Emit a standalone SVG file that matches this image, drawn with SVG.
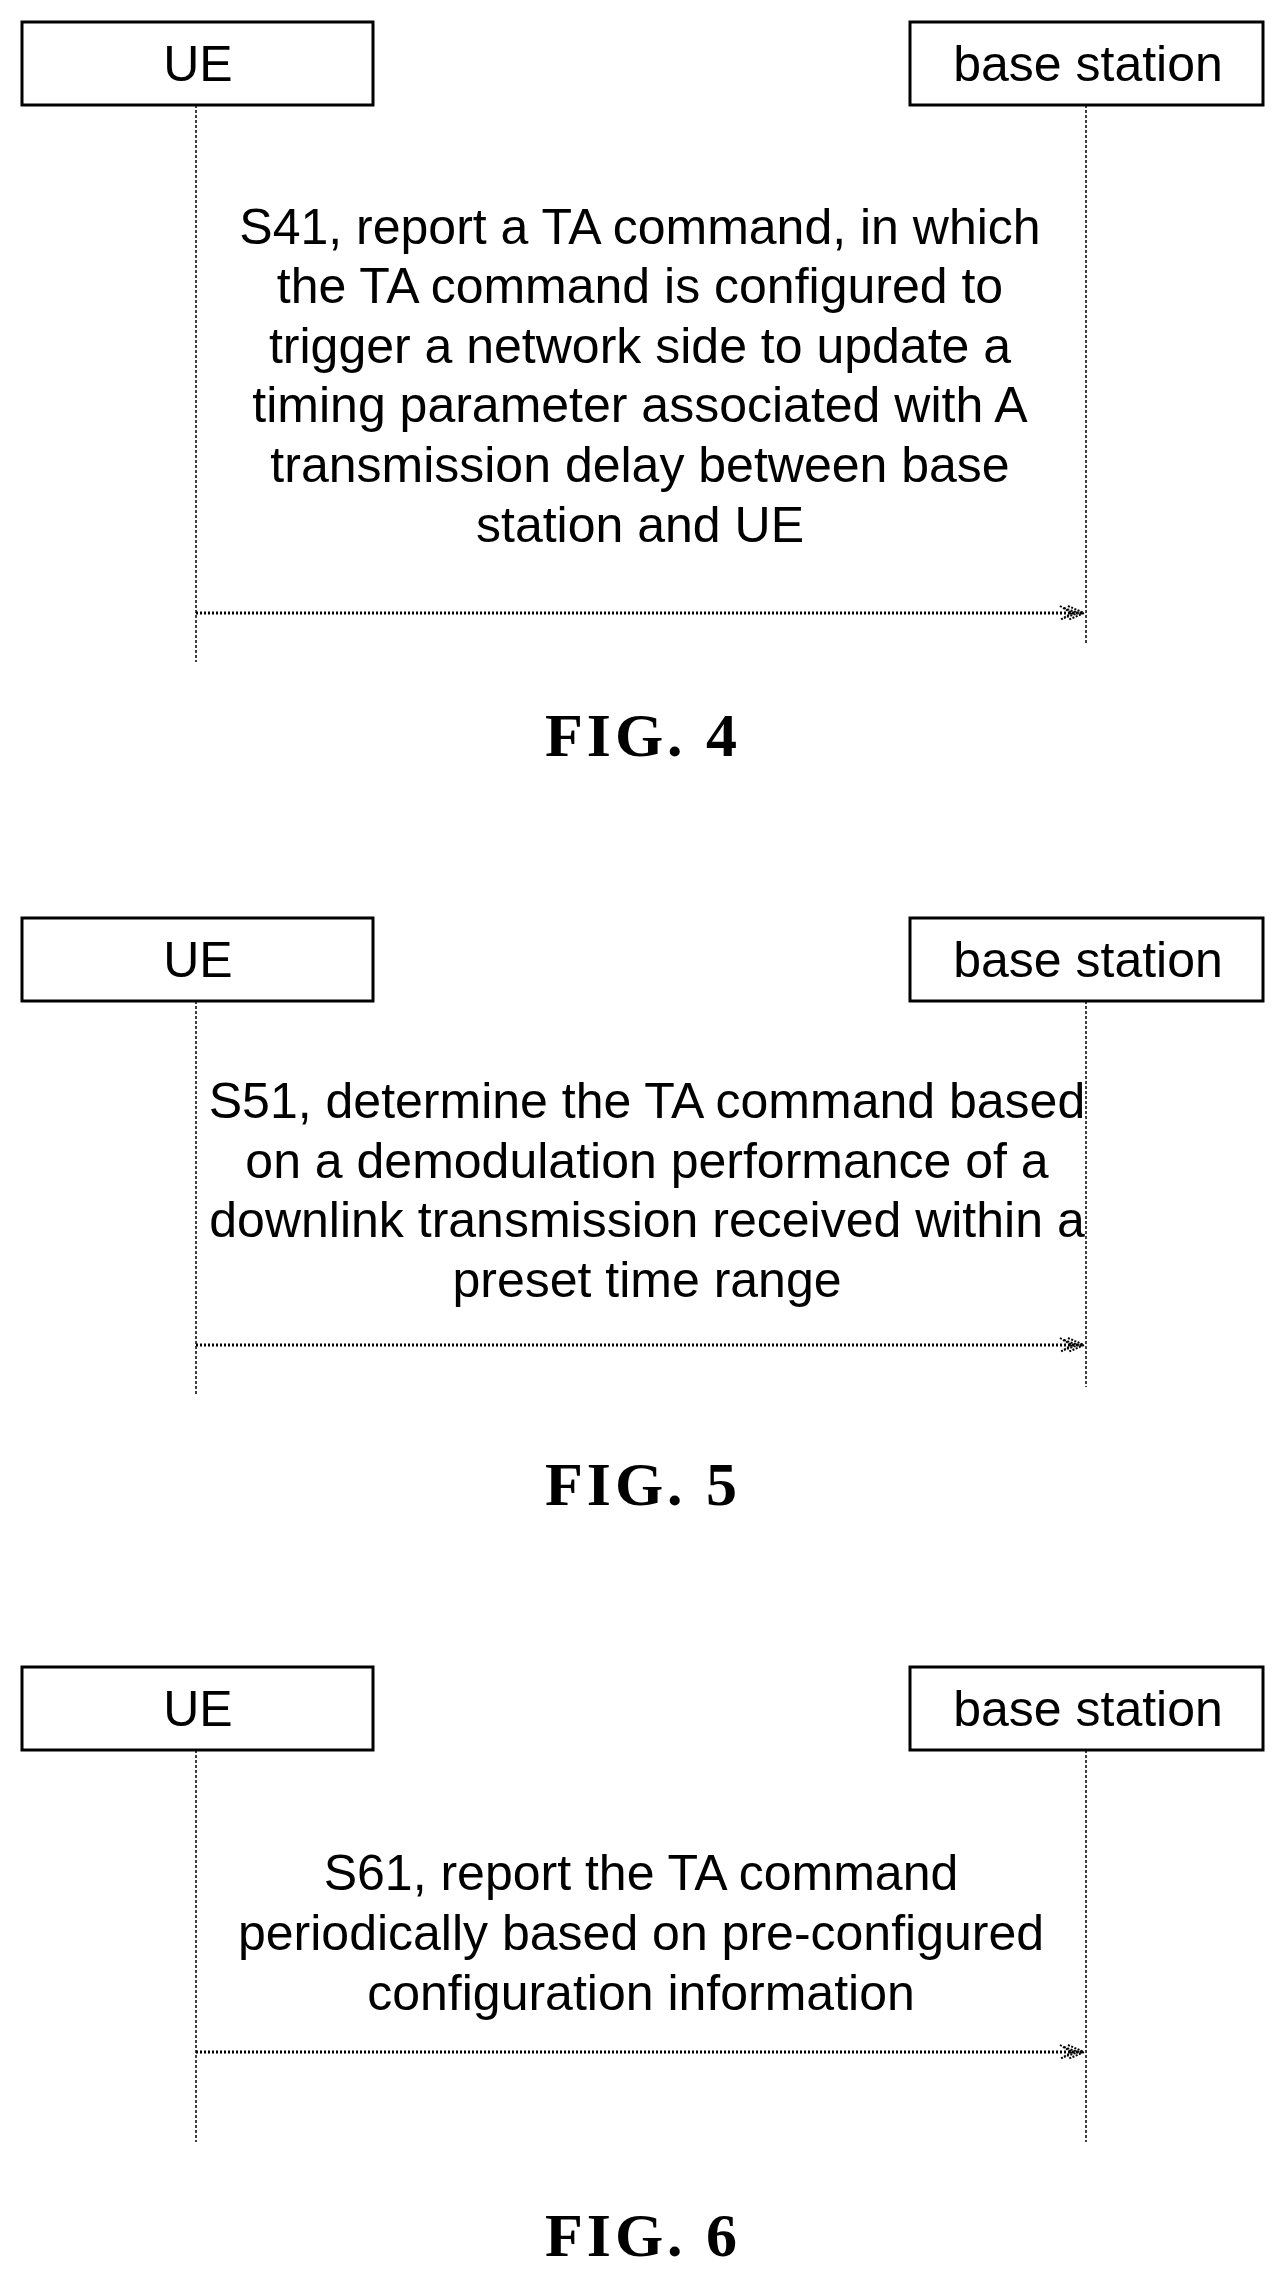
<svg xmlns="http://www.w3.org/2000/svg" width="1282" height="2270" viewBox="0 0 1282 2270">
<style>
.box{fill:#fff;stroke:#000;stroke-width:3}
.lbl{font-family:"Liberation Sans",Arial,sans-serif;font-size:50px;text-anchor:middle;fill:#000}
.life{stroke:#000;stroke-width:1.5;stroke-dasharray:3 2;fill:none}
.msg{stroke:#000;stroke-width:3;stroke-dasharray:2 2;fill:none}
.fig{font-family:"Liberation Serif","Times New Roman",serif;font-size:62px;font-weight:bold;text-anchor:middle;fill:#000;letter-spacing:4px}
</style>
<defs>
<marker id="ah" markerWidth="28" markerHeight="20" refX="26" refY="10" orient="auto" markerUnits="userSpaceOnUse">
<path d="M2,3 L14,10 L2,17 M10,3 L26,10 L10,17 M6,5 L20,10 L6,15" fill="none" stroke="#000" stroke-width="2" stroke-dasharray="2 1.5"/>
</marker>
</defs>
<rect width="1282" height="2270" fill="#fff"/>
<!-- FIG 4 -->
<g id="ue4"><rect class="box" x="22" y="22" width="351" height="83"/><text class="lbl" x="198" y="81">UE</text></g>
<g id="bs4"><rect class="box" x="910" y="22" width="353" height="83"/><text class="lbl" x="1088" y="81">base station</text></g>
<g id="connectors4">
<line class="life" x1="196" y1="105" x2="196" y2="662"/>
<line class="life" x1="1086" y1="105" x2="1086" y2="643"/>
<line class="msg" x1="196" y1="613" x2="1084" y2="613" marker-end="url(#ah)"/>
</g>
<g id="msg4" class="lbl">
<text x="640" y="244">S41, report a TA command, in which</text>
<text x="640" y="303">the TA command is configured to</text>
<text x="640" y="363">trigger a network side to update a</text>
<text x="640" y="422">timing parameter associated with A</text>
<text x="640" y="482">transmission delay between base</text>
<text x="640" y="542">station and UE</text>
</g>
<text class="fig" x="643" y="756">FIG.  4</text>
<!-- FIG 5 -->
<g id="ue5"><rect class="box" x="22" y="918" width="351" height="83"/><text class="lbl" x="198" y="977">UE</text></g>
<g id="bs5"><rect class="box" x="910" y="918" width="353" height="83"/><text class="lbl" x="1088" y="977">base station</text></g>
<g id="connectors5">
<line class="life" x1="196" y1="1001" x2="196" y2="1394"/>
<line class="life" x1="1086" y1="1001" x2="1086" y2="1387"/>
<line class="msg" x1="196" y1="1345" x2="1084" y2="1345" marker-end="url(#ah)"/>
</g>
<g id="msg5" class="lbl">
<text x="647" y="1118">S51, determine the TA command based</text>
<text x="647" y="1178">on a demodulation performance of a</text>
<text x="647" y="1237">downlink transmission received within a</text>
<text x="647" y="1297">preset time range</text>
</g>
<text class="fig" x="643" y="1505">FIG.  5</text>
<!-- FIG 6 -->
<g id="ue6"><rect class="box" x="22" y="1667" width="351" height="83"/><text class="lbl" x="198" y="1726">UE</text></g>
<g id="bs6"><rect class="box" x="910" y="1667" width="353" height="83"/><text class="lbl" x="1088" y="1726">base station</text></g>
<g id="connectors6">
<line class="life" x1="196" y1="1750" x2="196" y2="2142"/>
<line class="life" x1="1086" y1="1750" x2="1086" y2="2142"/>
<line class="msg" x1="196" y1="2052" x2="1084" y2="2052" marker-end="url(#ah)"/>
</g>
<g id="msg6" class="lbl">
<text x="641" y="1890">S61, report the TA command</text>
<text x="641" y="1950">periodically based on pre-configured</text>
<text x="641" y="2010">configuration information</text>
</g>
<text class="fig" x="643" y="2256">FIG.  6</text>
</svg>
